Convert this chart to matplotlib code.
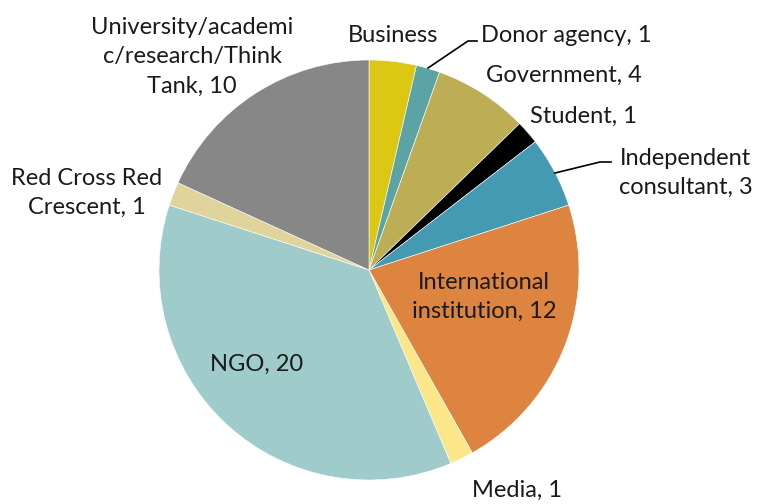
import matplotlib.pyplot as plt

plt.rcParams['font.family'] = ['Lato', 'DejaVu Sans']

categories = ['Business', 'Donor agency', 'Government', 'Student',
              'Independent consultant', 'International institution',
              'Media', 'NGO', 'Red Cross Red Crescent',
              'University/academic/research/Think Tank']
counts = [2, 1, 4, 1, 3, 12, 1, 20, 1, 10]
colors = ['#DCC814', '#5BA3A5', '#BDAE55', '#000000', '#4499B3',
          '#DD8540', '#FBE68A', '#9FCBCB', '#E0D49C', '#878787']

W, H = 758, 504
fig = plt.figure(figsize=(W / 100, H / 100), dpi=100)
ax = fig.add_axes([0, 0, 1, 1])

cx, cy, r = 369, H - 270, 210
ax.pie(counts, colors=colors, startangle=90, counterclock=False,
       center=(cx, cy), radius=r, frame=True,
       wedgeprops=dict(edgecolor='white', linewidth=0.4))
ax.set_xlim(0, W)
ax.set_ylim(0, H)
ax.set_aspect('equal')
ax.axis('off')

fs = 17
def label(x, y, s, ha='center'):
    ax.text(x, H - y, s, ha=ha, va='center', fontsize=fs,
            color='#1a1a1a', linespacing=1.5)

label(192, 57, 'University/academi\nc/research/Think\nTank, '
      + str(counts[9]))
label(393, 36, categories[0])
label(481, 36, categories[1] + ', ' + str(counts[1]), ha='left')
label(486, 75, categories[2] + ', ' + str(counts[2]), ha='left')
label(530, 116, categories[3] + ', ' + str(counts[3]), ha='left')
label(686, 173, 'Independent\nconsultant, ' + str(counts[4]))
label(87, 193, 'Red Cross Red\nCrescent, ' + str(counts[8]))
label(484, 297, 'International\ninstitution, ' + str(counts[5]))
label(257, 364, categories[7] + ', ' + str(counts[7]))
label(517, 490, categories[6] + ', ' + str(counts[6]))

# leader lines
ax.plot([428, 468, 477], [H - 68, H - 41, H - 41], color='black', lw=1.2)
ax.plot([555, 600, 611], [H - 173, H - 162, H - 162], color='black', lw=1.2)

fig.savefig('out.png', dpi=100)
